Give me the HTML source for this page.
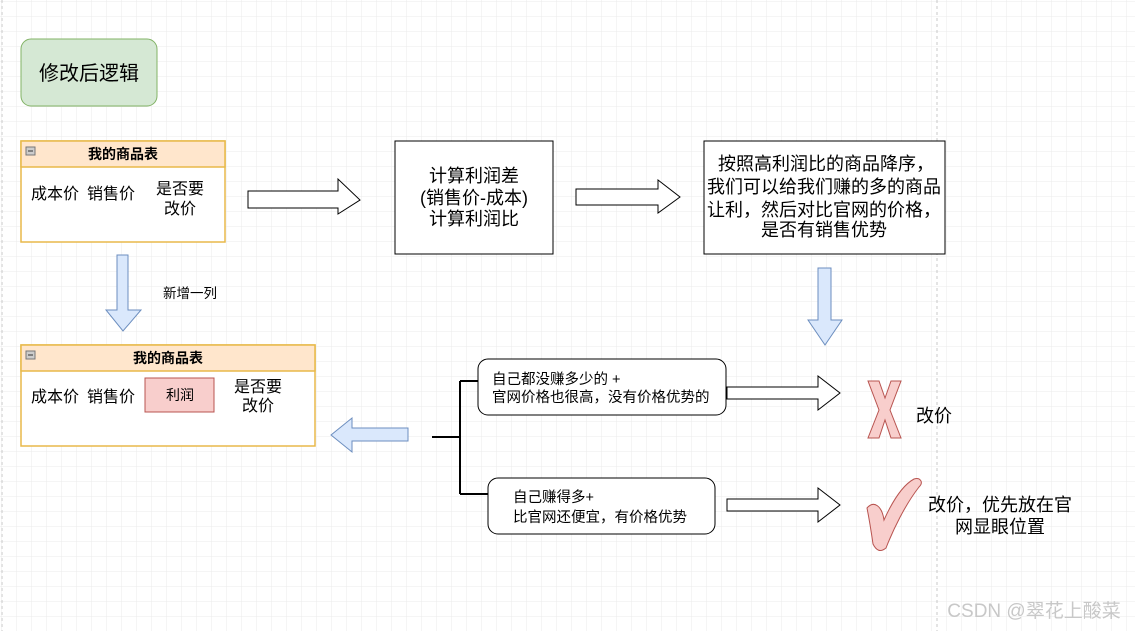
<!DOCTYPE html>
<html><head><meta charset="utf-8"><style>
html,body{margin:0;padding:0;background:#fff}
svg{display:block}
text{font-family:"Liberation Sans","Noto Sans CJK SC",sans-serif;fill:#000}
</style></head><body>
<svg width="1135" height="631" viewBox="0 0 1135 631" xmlns="http://www.w3.org/2000/svg">
<defs>
<pattern id="g" width="15" height="15" patternUnits="userSpaceOnUse" x="2" y="2">
<path d="M15 0V15M0 15H15" stroke="#ebebeb" stroke-width="1" fill="none"/>
</pattern>
</defs>
<rect width="1135" height="631" fill="url(#g)"/>
<line x1="2" y1="0" x2="2" y2="631" stroke="#c8c8c8" stroke-dasharray="3,3"/>
<line x1="937" y1="0" x2="937" y2="631" stroke="#c8c8c8" stroke-dasharray="3,3"/>

<rect x="21" y="39" width="136" height="67" rx="10" fill="#d5e8d4" stroke="#82b366"/>
<text x="89" y="80" font-size="20" text-anchor="middle">修改后逻辑</text>

<!-- table 1 -->
<rect x="21" y="141" width="204" height="101" fill="#fff" stroke="#e8b94a" stroke-width="1.5"/>
<rect x="21" y="141" width="204" height="26" fill="#ffe6cc" stroke="#e8b94a" stroke-width="1.5"/>
<rect x="26" y="147" width="9" height="8" fill="#ccc" stroke="#777"/><line x1="28" y1="151" x2="33" y2="151" stroke="#333"/>
<text x="123" y="159" font-size="14" font-weight="bold" text-anchor="middle">我的商品表</text>
<text x="55" y="199" font-size="16" text-anchor="middle">成本价</text>
<text x="111" y="199" font-size="16" text-anchor="middle">销售价</text>
<text x="180" y="194" font-size="16" text-anchor="middle">是否要</text>
<text x="180" y="214" font-size="16" text-anchor="middle">改价</text>

<polygon points="248,191 338,191 338,179 360,200 338,214 338,208 248,208" fill="#fff" stroke="#000"/>

<rect x="395" y="141" width="158" height="113" fill="#fff" stroke="#000"/>
<text x="474" y="182" font-size="18" text-anchor="middle">计算利润差</text>
<text x="474" y="204" font-size="18" text-anchor="middle">(销售价-成本)</text>
<text x="474" y="225" font-size="18" text-anchor="middle">计算利润比</text>

<polygon points="576,189 658,189 658,180 680,197 658,213 658,205 576,205" fill="#fff" stroke="#000"/>

<rect x="704" y="141" width="241" height="113" fill="#fff" stroke="#000"/>
<text x="826" y="170" font-size="18" text-anchor="middle">按照高利润比的商品降序，</text>
<text x="824" y="193" font-size="18" text-anchor="middle">我们可以给我们赚的多的商品</text>
<text x="824" y="216" font-size="18" text-anchor="middle">让利，然后对比官网的价格，</text>
<text x="824" y="236" font-size="18" text-anchor="middle">是否有销售优势</text>

<polygon points="818,268 831,268 831,320 842,320 825,345 808,320 818,320" fill="#dae8fc" stroke="#6c8ebf"/>

<polygon points="117,255 128,255 128,310 141,310 123,331 106,310 117,310" fill="#dae8fc" stroke="#6c8ebf"/>
<text x="190" y="298" font-size="13.5" text-anchor="middle">新增一列</text>

<!-- table 2 -->
<rect x="21" y="345" width="294" height="101" fill="#fff" stroke="#e8b94a" stroke-width="1.5"/>
<rect x="21" y="345" width="294" height="26" fill="#ffe6cc" stroke="#e8b94a" stroke-width="1.5"/>
<rect x="26" y="351" width="9" height="8" fill="#ccc" stroke="#777"/><line x1="28" y1="355" x2="33" y2="355" stroke="#333"/>
<text x="168" y="363" font-size="14" font-weight="bold" text-anchor="middle">我的商品表</text>
<text x="55" y="402" font-size="16" text-anchor="middle">成本价</text>
<text x="111" y="402" font-size="16" text-anchor="middle">销售价</text>
<rect x="145" y="378" width="69" height="34" fill="#f8cecc" stroke="#b85450"/>
<text x="180" y="400" font-size="14" text-anchor="middle">利润</text>
<text x="258" y="392" font-size="16" text-anchor="middle">是否要</text>
<text x="258" y="411" font-size="16" text-anchor="middle">改价</text>

<polygon points="408,428 352,428 352,418 331,435 352,452 352,441 408,441" fill="#dae8fc" stroke="#6c8ebf"/>

<path d="M432 437H460M460 381V494M460 381H478M460 494H488" stroke="#000" stroke-width="2" fill="none"/>

<rect x="478" y="359" width="248" height="56" rx="10" fill="#fff" stroke="#000"/>
<text x="492" y="384" font-size="14.5">自己都没赚多少的 +</text>
<text x="492" y="402" font-size="14.5">官网价格也很高，没有价格优势的</text>

<rect x="488" y="478" width="227" height="56" rx="10" fill="#fff" stroke="#000"/>
<text x="513" y="502" font-size="14.5">自己赚得多+</text>
<text x="513" y="522" font-size="14.5">比官网还便宜，有价格优势</text>

<polygon points="727,387 818,387 818,376 840,393 818,410 818,399 727,399" fill="#fff" stroke="#000"/>
<polygon points="727,499 818,499 818,488 840,505 818,522 818,511 727,511" fill="#fff" stroke="#000"/>

<polygon points="868,381 879,381 885,398 891,381 901,381 890,410 901,438 891,438 885,420 879,438 868,438 879,410" fill="#f8cecc" stroke="#b85450"/>
<text x="916" y="422" font-size="18">改价</text>

<path d="M867 508 C874 500 882 506 884 520 C893 500 903 485 914 479 C920 477 924 482 919 487 C905 505 893 530 886 548 C880 553 876 550 873 544 C871 530 869 518 867 508 Z" fill="#f8cecc" stroke="#b85450"/>
<text x="1000" y="511" font-size="18" text-anchor="middle">改价，优先放在官</text>
<text x="1000" y="533" font-size="18" text-anchor="middle">网显眼位置</text>

<text x="1034" y="617" font-size="19" text-anchor="middle" style="fill:#c8c8c8">CSDN @翠花上酸菜</text>
</svg>
</body></html>
